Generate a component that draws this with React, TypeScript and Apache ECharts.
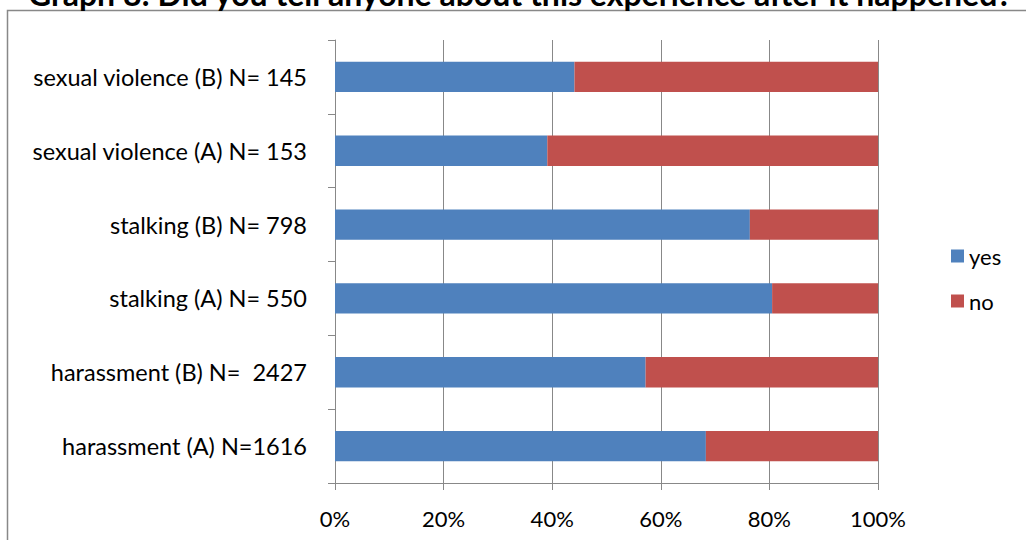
import React, { useEffect, useRef } from "react";
import * as echarts from "echarts";

const titleText = "Graph 8: Did you tell anyone about this experience after it happened?";
const categories = [
  "harassment (A) N=1616",
  "harassment (B) N=  2427",
  "stalking (A) N= 550",
  "stalking (B) N= 798",
  "sexual violence (A) N= 153",
  "sexual violence (B) N= 145",
];
const yesValues = [68.3, 57.2, 80.5, 76.4, 39.1, 44.1];
const noValues = [31.7, 42.8, 19.5, 23.6, 60.9, 55.9];
const seriesNames = ["yes", "no"];
const FONT = "Lato";

export default function App() {
  const ref = useRef<HTMLDivElement>(null);
  useEffect(() => {
    document.body.style.margin = "0";
    const chart = echarts.init(ref.current!, null, { renderer: "svg" });
    chart.setOption({
      animation: false,
      backgroundColor: "#ffffff",
      textStyle: { fontFamily: FONT },
      grid: { left: 335, right: 148, top: 40, bottom: 57 },
      legend: {
        orient: "vertical",
        left: 946,
        top: 240,
        itemWidth: 13,
        itemHeight: 13,
        itemGap: 23,
        icon: "rect",
        textStyle: { fontFamily: FONT, fontSize: 22, color: "#000" },
        data: seriesNames,
      },
      xAxis: {
        type: "value",
        min: 0,
        max: 100,
        interval: 20,
        axisLine: { show: true, lineStyle: { color: "#888", width: 1 } },
        axisTick: { show: true, length: 7, lineStyle: { color: "#888" } },
        splitLine: { show: true, lineStyle: { color: "#888", width: 1 } },
        axisLabel: {
          formatter: "{value}%",
          fontFamily: FONT,
          fontSize: 22,
          color: "#000",
          margin: 24,
        },
      },
      yAxis: {
        type: "category",
        data: categories,
        axisLine: { show: true, lineStyle: { color: "#888", width: 1 } },
        axisTick: { show: true, length: 7, lineStyle: { color: "#888" } },
        axisLabel: { fontFamily: FONT, fontSize: 23.5, color: "#000", margin: 28 },
      },
      series: [
        {
          name: seriesNames[0],
          type: "bar",
          stack: "total",
          data: yesValues,
          barCategoryGap: "59%",
          itemStyle: { color: "#4F81BD" },
        },
        {
          name: seriesNames[1],
          type: "bar",
          stack: "total",
          data: noValues,
          barCategoryGap: "59%",
          itemStyle: { color: "#C0504D" },
        },
      ],
      graphic: [
        {
          type: "rect",
          shape: { x: 7.5, y: 10.5, width: 1040, height: 560 },
          style: { fill: "none", stroke: "#888", lineWidth: 1.5 },
          silent: true,
        },
        {
          type: "text",
          x: 520,
          y: -6.5,
          style: {
            text: titleText,
            fontFamily: FONT,
            fontWeight: "bold",
            fontSize: 32,
            fill: "#000",
            textAlign: "center",
            textVerticalAlign: "middle",
          },
        },
      ],
    });
    return () => chart.dispose();
  }, []);
  return <div ref={ref} style={{ width: 1026, height: 540 }} />;
}
